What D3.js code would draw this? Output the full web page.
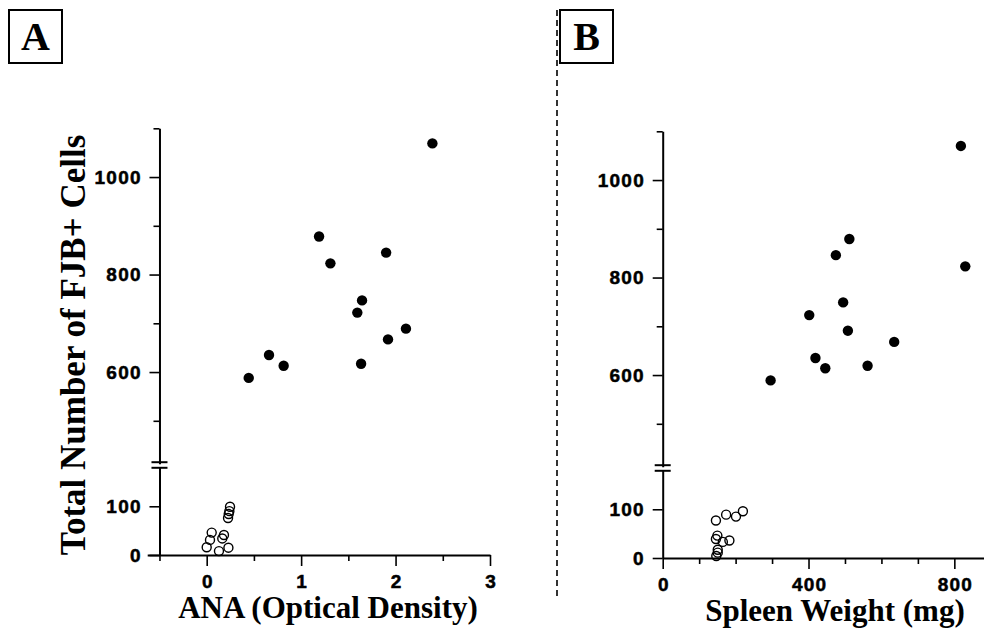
<!DOCTYPE html>
<html>
<head>
<meta charset="utf-8">
<script src="https://cdn.jsdelivr.net/npm/d3@7/dist/d3.min.js"></script>
<style>
  html, body { margin: 0; padding: 0; background: #fff; }
  svg { display: block; }
</style>
</head>
<body>
<svg id="chart" width="984" height="636"></svg>
<script>
"use strict";

// Filled dots (upper segment) and open circles (lower segment).
const anaFilled   = [2.39, 1.19, 1.31, 1.90, 1.645, 1.595, 2.11, 1.92, 1.635, 0.66, 0.815, 0.445];
const cellsFilledA = [1069, 878, 823, 845, 747, 722, 689, 667, 617, 635, 613, 588];
const anaOpen     = [0.247, 0.24, 0.233, 0.226, 0.053, 0.035, 0.183, 0.165, 0.0, 0.13, 0.23];
const cellsOpenA  = [99, 90, 84, 76, 46, 31, 41, 34, 16, 8, 15];

const spleenFilled = [818, 512, 475, 830, 495, 402, 508, 635, 419, 446, 562, 296];
const cellsFilledB = [1070, 879, 846, 823, 749, 723, 691, 668, 635, 614, 619, 589];
const spleenOpen  = [146, 174, 201, 220, 150, 146, 165, 183, 151, 151, 147];
const cellsOpenB  = [77, 89, 85, 96, 46, 39, 33, 36, 17, 11, 4];

// Tick values
const yMajorUpper = [600, 800, 1000];
const yMinorUpper = [500, 700, 900, 1100];
const yMajorLower = [0, 100];
const anaMajor = [0, 1, 2, 3];
const anaMinor = [-0.5, 0.5, 1.5, 2.5];
const spleenMajor = [0, 400, 800];
const spleenMinor = [100, 200, 300, 500, 600, 700, 900];

const svg = d3.select("#chart");

const tickFont = "'Liberation Sans', Arial, sans-serif";
const titleFont = "'Liberation Serif', 'Times New Roman', serif";
const fmt = d3.format("d");

function styleAxis(g) {
    g.select(".domain").attr("stroke", "#000").attr("stroke-width", 2);
    g.selectAll(".tick line").attr("stroke", "#000").attr("stroke-width", 1.6);
    g.selectAll(".tick text")
        .attr("fill", "#000")
        .attr("stroke", "#000")
        .attr("stroke-width", 0.5)
        .style("font-family", tickFont)
        .style("font-size", "19px")
        .style("font-weight", "bold")
        .style("letter-spacing", "1.2px");
}

function drawPanel(p) {
    let g = svg.append("g");

    // y scales: upper segment and lower segment share px per unit
    let yUpper = d3.scaleLinear().domain([412, 1100]).range([p.y0 + 463.7, p.y0 + 128.3]);
    let yLower = d3.scaleLinear().domain([0, 180]).range([p.y0 + 555, p.y0 + 467.3]);
    let x = p.x;
    let axisX = x(p.yAxisAt);

    // x axis: minor ticks + domain, then labelled major ticks
    let xg = g.append("g").attr("transform", "translate(0," + (p.y0 + 555) + ")");
    xg.call(d3.axisBottom(x).tickValues(p.xMinor).tickSize(6).tickSizeOuter(0).tickFormat(""));
    styleAxis(xg);
    xg.selectAll(".tick text").remove();
    let xg2 = g.append("g").attr("transform", "translate(0," + (p.y0 + 555) + ")");
    xg2.call(d3.axisBottom(x).tickValues(p.xMajor).tickSize(11).tickSizeOuter(0).tickPadding(9).tickFormat(fmt));
    styleAxis(xg2);
    xg2.select(".domain").remove();
    xg2.selectAll(".tick text").attr("dx", "0.6px");

    // y axis, upper
    let yu = g.append("g").attr("transform", "translate(" + axisX + ",0)");
    yu.call(d3.axisLeft(yUpper).tickValues(yMinorUpper).tickSize(6).tickSizeOuter(0).tickFormat(""));
    styleAxis(yu);
    yu.selectAll(".tick text").remove();
    let yu2 = g.append("g").attr("transform", "translate(" + axisX + ",0)");
    yu2.call(d3.axisLeft(yUpper).tickValues(yMajorUpper).tickSize(10).tickSizeOuter(0).tickPadding(9).tickFormat(fmt));
    styleAxis(yu2);
    yu2.select(".domain").remove();
    yu2.selectAll(".tick text").attr("dx", "1.2px");

    // y axis, lower
    let yl = g.append("g").attr("transform", "translate(" + axisX + ",0)");
    yl.call(d3.axisLeft(yLower).tickValues(yMajorLower).tickSize(10).tickSizeOuter(0).tickPadding(9).tickFormat(fmt));
    styleAxis(yl);
    yl.selectAll(".tick text").attr("dx", "1.2px");

    // axis break marks
    g.selectAll(".brk").data([yUpper(412) - 1.5, yLower(180) + 0.5]).enter().append("line")
        .attr("class", "brk")
        .attr("x1", axisX - 8).attr("x2", axisX + 8)
        .attr("y1", d => d).attr("y2", d => d)
        .attr("stroke", "#000").attr("stroke-width", 2);

    // points
    g.selectAll(".filled").data(p.filledX).enter().append("circle")
        .attr("class", "filled")
        .attr("cx", d => x(d))
        .attr("cy", (d, i) => yUpper(p.filledY[i]))
        .attr("r", 5.2)
        .attr("fill", "#000");

    g.selectAll(".open").data(p.openX).enter().append("circle")
        .attr("class", "open")
        .attr("cx", d => x(d))
        .attr("cy", (d, i) => yLower(p.openY[i]))
        .attr("r", 4.5)
        .attr("fill", "none")
        .attr("stroke", "#000")
        .attr("stroke-width", 1.4);

    // x title
    g.append("text")
        .attr("x", p.titleX).attr("y", p.y0 + 618)
        .attr("text-anchor", "middle")
        .style("font-family", titleFont)
        .style("font-size", "31px")
        .style("font-weight", "bold")
        .text(p.title);

    // panel letter box
    g.append("rect")
        .attr("x", p.boxX).attr("y", 10).attr("width", 53).attr("height", 53)
        .attr("fill", "none").attr("stroke", "#000").attr("stroke-width", 2);
    g.append("text")
        .attr("x", p.boxX + 26.5).attr("y", 50)
        .attr("text-anchor", "middle")
        .style("font-family", titleFont)
        .style("font-size", "40px")
        .style("font-weight", "bold")
        .text(p.letter);
}

drawPanel({
    x: d3.scaleLinear().domain([-0.63, 3]).range([147.2, 490]),
    yAxisAt: -0.5,
    y0: 0,
    xMajor: anaMajor, xMinor: anaMinor,
    filledX: anaFilled, filledY: cellsFilledA,
    openX: anaOpen, openY: cellsOpenA,
    title: "ANA (Optical Density)", titleX: 328,
    letter: "A", boxX: 9
});

drawPanel({
    x: d3.scaleLinear().domain([0, 880]).range([662.7, 983.5]),
    yAxisAt: 0,
    y0: 3,
    xMajor: spleenMajor, xMinor: spleenMinor,
    filledX: spleenFilled, filledY: cellsFilledB,
    openX: spleenOpen, openY: cellsOpenB,
    title: "Spleen Weight (mg)", titleX: 835,
    letter: "B", boxX: 560
});

// y title (panel A only)
svg.append("text")
    .attr("transform", "translate(85,345) rotate(-90)")
    .attr("text-anchor", "middle")
    .style("font-family", titleFont)
    .style("font-size", "35px")
    .style("font-weight", "bold")
    .text("Total Number of FJB+ Cells");

// dashed divider between panels
svg.append("line")
    .attr("x1", 557).attr("x2", 557)
    .attr("y1", 10).attr("y2", 600)
    .attr("stroke", "#000")
    .attr("stroke-width", 1.6)
    .attr("stroke-dasharray", "6,4");
</script>
</body>
</html>
